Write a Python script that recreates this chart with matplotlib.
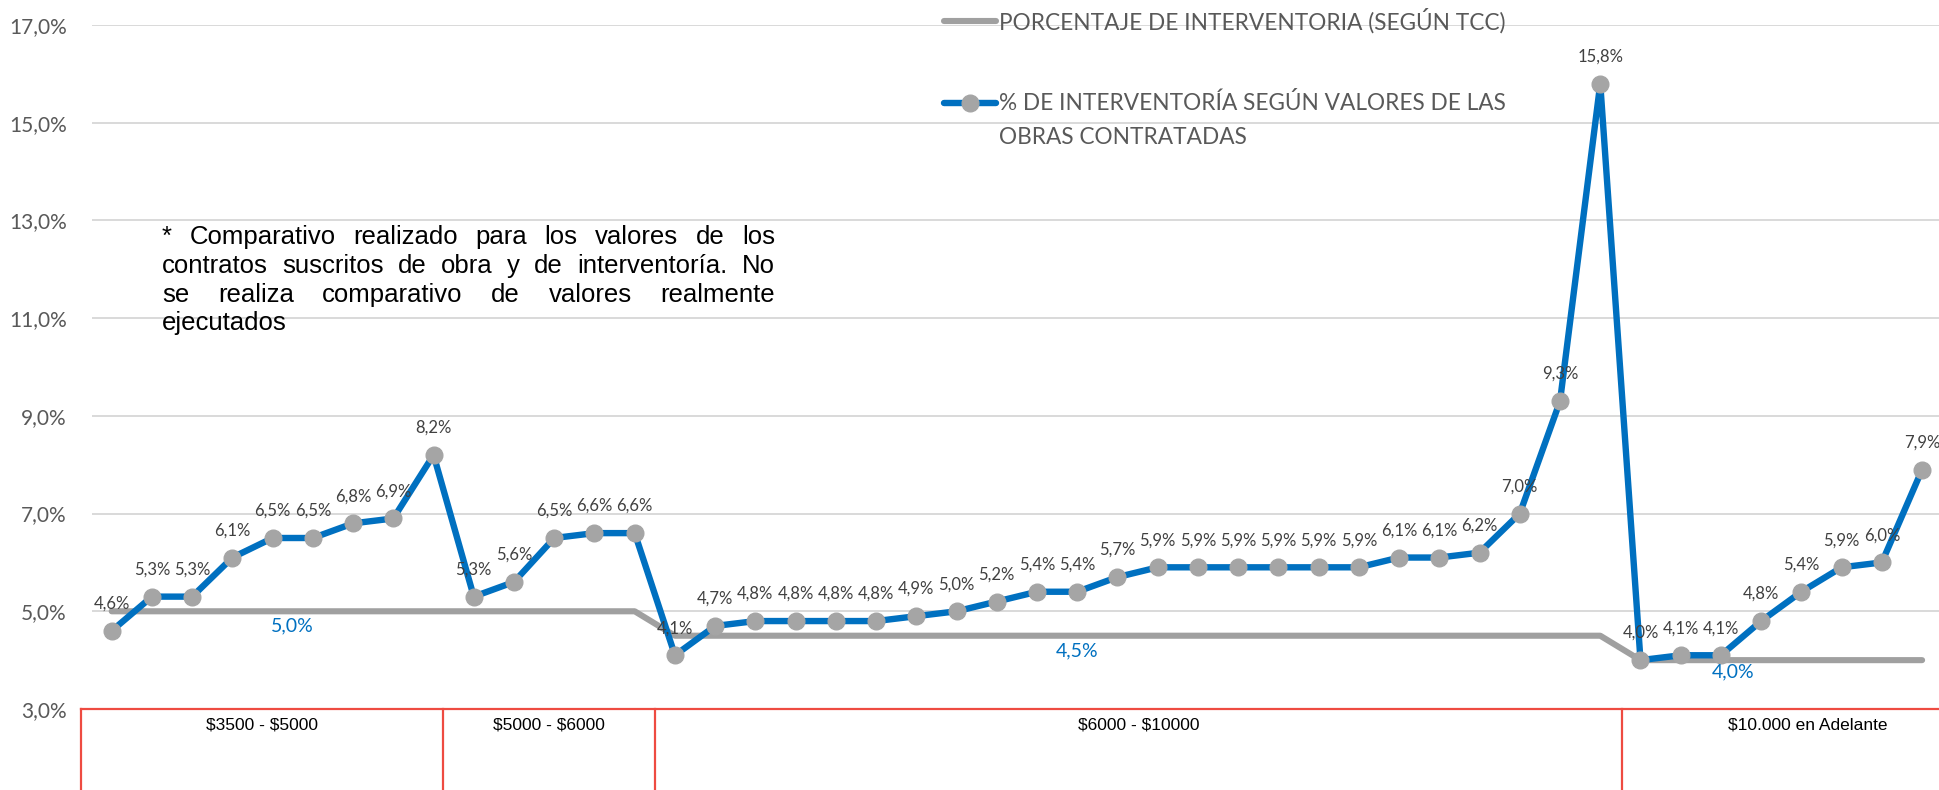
import matplotlib
matplotlib.use("Agg")
import matplotlib.pyplot as plt
import matplotlib.transforms as mtransforms
from matplotlib.lines import Line2D

plt.rcParams["text.parse_math"] = False

# ---------------- data ----------------
groups = ["$3500 - $5000", "$5000 - $6000", "$6000 - $10000", "$10.000 en Adelante"]
group_sizes = [9, 5, 24, 8]
tcc_by_group = [5.0, 5.0, 4.5, 4.0]
obras_pct = [4.6, 5.3, 5.3, 6.1, 6.5, 6.5, 6.8, 6.9, 8.2,
             5.3, 5.6, 6.5, 6.6, 6.6,
             4.1, 4.7, 4.8, 4.8, 4.8, 4.8, 4.9, 5.0, 5.2, 5.4, 5.4, 5.7,
             5.9, 5.9, 5.9, 5.9, 5.9, 5.9, 6.1, 6.1, 6.2, 7.0, 9.3, 15.8,
             4.0, 4.1, 4.1, 4.8, 5.4, 5.9, 6.0, 7.9]
tcc_pct = []
for val, n in zip(tcc_by_group, group_sizes):
    tcc_pct += [val] * n
tcc_label_values = [5.0, 4.5, 4.0]
yticks = [3, 5, 7, 9, 11, 13, 15, 17]

legend_tcc = "PORCENTAJE DE INTERVENTORIA (SEGÚN TCC)"
legend_obras = ["% DE INTERVENTORÍA SEGÚN VALORES DE LAS", "OBRAS CONTRATADAS"]
note_lines = ["* Comparativo realizado para los valores de los",
              "contratos suscritos de obra y de interventoría. No",
              "se realiza comparativo de valores realmente",
              "ejecutados"]

# ---------------- styles ----------------
BLUE = "#0070C0"
GRAY = "#A0A0A0"
MARK = "#A5A5A5"
RED = "#EE4B41"
TXT = "#595959"
LBL = "#404040"
CAL = ["Lato", "DejaVu Sans"]
ARIAL = ["Liberation Sans", "DejaVu Sans"]

W, H = 1939, 790
fig = plt.figure(figsize=(W / 100, H / 100), dpi=100)
fx = lambda px: px / W
fy = lambda py: 1 - py / H

ax = fig.add_axes([fx(91.6), fy(709), 1 - fx(91.6), (709 - 25) / H])
ax.set_xlim(-0.5, 45.42)
ax.set_ylim(3, 17)
for s in ax.spines.values():
    s.set_visible(False)
ax.set_xticks([])
ax.set_yticks(yticks)
ax.set_yticklabels([f"{v:.1f}".replace(".", ",") + "%" for v in yticks],
                   fontfamily=CAL)
ax.tick_params(axis="y", length=0, pad=18, labelsize=15, labelcolor=TXT)
ax.yaxis.grid(True, color="#D9D9D9", lw=1.4)
ax.set_axisbelow(True)

x = list(range(len(obras_pct)))
ax.plot(x, tcc_pct, color=GRAY, lw=4.4, solid_capstyle="round",
        solid_joinstyle="round", zorder=2)
ax.plot(x, obras_pct, color=BLUE, lw=4.6, solid_joinstyle="round",
        marker="o", ms=12, mfc=MARK, mec=MARK, zorder=3)

for i, v in enumerate(obras_pct):
    ax.annotate(f"{v:.1f}".replace(".", ",") + "%", (i, v), xytext=(0, 19.5),
                textcoords="offset points", ha="center", va="center",
                fontsize=12, color=LBL, fontfamily=CAL, zorder=4)

# labels of the TCC series (placed below the line)
tcc_label_x = [4.5, 24.0, 40.3]
tcc_label_dy = [-10.3, -11.0, -8.3]
for xi, v, dy in zip(tcc_label_x, tcc_label_values, tcc_label_dy):
    ax.annotate(f"{v:.1f}".replace(".", ",") + "%", (xi, v), xytext=(0, dy),
                textcoords="offset points", ha="center", va="center",
                fontsize=14, color=BLUE, fontfamily=CAL, zorder=4)

# category table below the plot
trans = mtransforms.blended_transform_factory(ax.transData, ax.transAxes)
edges = [-0.77, 8.24, 13.5, 37.55, 46.76]
ax.plot([edges[0], edges[-1]], [0, 0], transform=trans, color=RED, lw=1.6,
        clip_on=False, zorder=5)
for e in edges:
    ax.plot([e, e], [0, -0.3], transform=trans, color=RED, lw=1.6,
            clip_on=False, zorder=5)
for k, name in enumerate(groups):
    ax.text((edges[k] + edges[k + 1]) / 2, -(725 - 709) / 684, name,
            transform=trans, ha="center", va="center", fontsize=12.5,
            color="black", fontfamily=ARIAL)

# legend (drawn manually to match the layout)
fig.add_artist(Line2D([fx(943.5), fx(995.5)], [fy(21), fy(21)], color=GRAY,
                      lw=4.4, solid_capstyle="round", transform=fig.transFigure))
fig.text(fx(999), fy(21), legend_tcc, ha="left", va="center", fontsize=16.3,
         color=TXT, fontfamily=CAL)
fig.add_artist(Line2D([fx(943.5), fx(995.5)], [fy(102.6), fy(102.6)], color=BLUE,
                      lw=4.6, solid_capstyle="round", transform=fig.transFigure))
fig.add_artist(Line2D([fx(969.5)], [fy(102.6)], marker="o", ms=12, mfc=MARK,
                      mec=MARK, lw=0, transform=fig.transFigure))
fig.text(fx(999), fy(102.6), legend_obras[0], ha="left", va="center",
         fontsize=16.3, color=TXT, fontfamily=CAL)
fig.text(fx(999), fy(137), legend_obras[1], ha="left", va="center",
         fontsize=16.3, color=TXT, fontfamily=CAL)

# justified note
renderer = fig.canvas.get_renderer()
x0, x1 = 162, 775
note_y = [237, 266, 295, 323]
for k, (line, yy) in enumerate(zip(note_lines, note_y)):
    words = line.split()
    kw = dict(va="center", ha="left", fontsize=18.5, color="black",
              fontfamily=ARIAL)
    if k == len(note_lines) - 1 or len(words) == 1:
        fig.text(fx(x0), fy(yy), line, **kw)
        continue
    objs = [fig.text(0, 0, w_, **kw) for w_ in words]
    widths = [o.get_window_extent(renderer).width for o in objs]
    gap = (x1 - x0 - sum(widths)) / (len(words) - 1)
    cx = x0
    for o, wd in zip(objs, widths):
        o.set_position((fx(cx), fy(yy)))
        cx += wd + gap

fig.savefig("out.png", dpi=100)
